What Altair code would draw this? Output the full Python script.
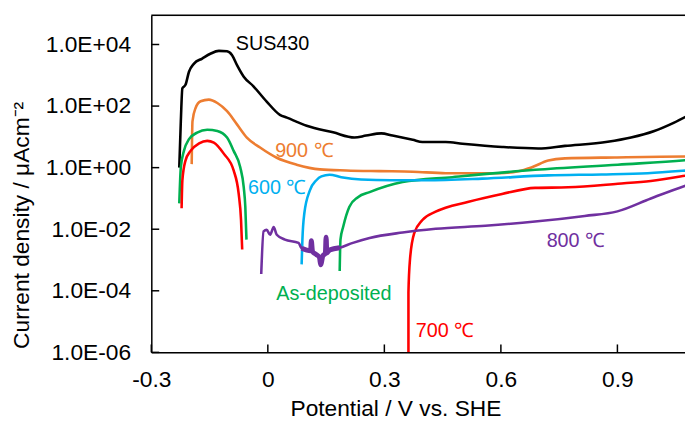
import altair as alt
import pandas as pd

# ---- data (potential V vs SHE, current density uA/cm2) ----
sus_v = [-0.228, -0.224, -0.220, -0.212, -0.203, -0.190, -0.169, -0.148, -0.126, -0.105, -0.092,
         -0.079, -0.062, -0.037, -0.003, 0.031, 0.049, 0.100, 0.168, 0.223, 0.253, 0.292, 0.321,
         0.373, 0.398, 0.458, 0.501, 0.603, 0.696, 0.765, 0.875, 0.935, 0.995, 1.046, 1.079, 1.10]
sus_i = [1.0, 32, 380, 490, 1300, 2400, 3500, 5000, 6200, 6000, 4500,
         2100, 900, 440, 140, 52, 42, 23, 14, 9.5, 11, 13, 11,
         8.0, 6.8, 6.8, 6.0, 4.7, 4.2, 5.1, 6.9, 9.5, 15.5, 29, 47, 65]

t900_v = [-0.196, -0.194, -0.186, -0.173, -0.152, -0.130, -0.105, -0.079, -0.054, -0.020, 0.023,
          0.074, 0.134, 0.202, 0.287, 0.373, 0.458, 0.509, 0.594, 0.645, 0.680, 0.722, 0.765,
          0.893, 1.079, 1.10]
t900_i = [1.3, 32, 87, 143, 162, 126, 68, 25, 9.5, 4.5, 2.1,
          1.25, 0.88, 0.81, 0.77, 0.74, 0.66, 0.66, 0.66, 0.76, 1.03, 1.7, 2.0,
          2.15, 2.3, 2.3]

asdep1_v = [-0.228, -0.224, -0.216, -0.203, -0.182, -0.156, -0.130, -0.105, -0.088, -0.071,
            -0.062, -0.058, -0.055]
asdep1_i = [0.069, 1.03, 3.5, 8.4, 13.7, 17, 15.5, 9.5, 3.5, 1.03, 0.23, 0.054, 0.0046]
asdep2_v = [0.185, 0.187, 0.194, 0.210, 0.232, 0.262, 0.347, 0.475, 0.688, 0.901, 1.079, 1.10]
asdep2_i = [0.00044, 0.0046, 0.012, 0.054, 0.11, 0.16, 0.34, 0.49, 0.85, 1.25, 1.75, 1.85]

t700a_v = [-0.222, -0.220, -0.212, -0.199, -0.177, -0.156, -0.139, -0.113, -0.088, -0.075,
           -0.069, -0.066]
t700a_i = [0.048, 0.39, 1.7, 3.5, 6.1, 7.4, 6.5, 2.8, 0.81, 0.14, 0.02, 0.0022]
t700b_v = [0.362, 0.362, 0.366, 0.377, 0.398, 0.432, 0.517, 0.603, 0.688, 0.773, 0.901,
           0.986, 1.079, 1.10]
t700b_i = [1.0e-6, 8.9e-5, 0.00105, 0.0075, 0.020, 0.037, 0.078, 0.14, 0.22, 0.23, 0.30,
           0.37, 0.56, 0.62]

t600_v = [0.087, 0.089, 0.094, 0.108, 0.125, 0.138, 0.159, 0.189, 0.240, 0.317, 0.407,
          0.552, 0.722, 0.859, 0.978, 1.079, 1.10]
t600_i = [0.00072, 0.0046, 0.033, 0.18, 0.39, 0.52, 0.59, 0.49, 0.41, 0.39, 0.39,
          0.44, 0.56, 0.60, 0.66, 0.81, 0.85]

t800_v = [-0.017, -0.011, -0.003, 0.006, 0.015, 0.023, 0.044, 0.079, 0.087, 0.100, 0.110,
          0.112, 0.115, 0.125, 0.133, 0.136, 0.142, 0.148, 0.150, 0.152, 0.159, 0.185, 0.219,
          0.262, 0.347, 0.432, 0.560, 0.688, 0.816, 0.900, 0.986, 1.079, 1.10]
t800_i = [0.00035, 0.0085, 0.0095, 0.0066, 0.0117, 0.0066, 0.0046, 0.0036, 0.0024, 0.0021, 0.0020,
          0.0042, 0.0019, 0.0015, 0.0012, 0.0007, 0.0014, 0.0016, 0.0055, 0.0017, 0.0021, 0.0025, 0.0036,
          0.0052, 0.0078, 0.0103, 0.013, 0.0177, 0.027, 0.038, 0.10, 0.27, 0.33]

series_names = ["SUS430", "900", "As-deposited", "700", "600", "800"]
series_colors = ["#000000", "#ED7D31", "#00B050", "#FF0000", "#00B0F0", "#7030A0"]

x_tick_values = [-0.3, 0, 0.3, 0.6, 0.9]
x_tick_labels = ["-0.3", "0", "0.3", "0.6", "0.9"]
y_tick_values = [1e-6, 1e-4, 1e-2, 1e0, 1e2, 1e4]
y_tick_labels = ["1.0E-06", "1.0E-04", "1.0E-02", "1.0E+00", "1.0E+02", "1.0E+04"]

ann_series = ["SUS430", "900", "600", "As-deposited", "700", "800"]
ann_text = ["SUS430", "900 ℃", "600 ℃", "As-deposited", "700 ℃", "800 ℃"]
ann_v = [0.012, 0.094, 0.024, 0.170, 0.456, 0.793]
ann_i = [1.07e4, 3.5, 0.21, 7.8e-5, 4.8e-6, 0.0040]

# ---- build table ----
rows = []
branches = [
    ("SUS430", "s", sus_v, sus_i),
    ("900", "o", t900_v, t900_i),
    ("As-deposited", "g1", asdep1_v, asdep1_i),
    ("As-deposited", "g2", asdep2_v, asdep2_i),
    ("700", "r1", t700a_v, t700a_i),
    ("700", "r2", t700b_v, t700b_i),
    ("600", "b", t600_v, t600_i),
    ("800", "p", t800_v, t800_i),
]
for name, br, vs, cs in branches:
    for k, (v, c) in enumerate(zip(vs, cs)):
        rows.append({"series": name, "branch": br, "idx": k, "v": v, "i": c})
df = pd.DataFrame(rows)

ann_df = pd.DataFrame({"text": ann_text, "v": ann_v, "i": ann_i, "series": ann_series})

W, H = 540, 341
XMIN, XMAX = -0.3, 1.074
YMIN, YMAX = 1e-6, 8.85e4
FONT = "Liberation Sans"

xscale = alt.Scale(domain=[XMIN, XMAX], nice=False, zero=False)
yscale = alt.Scale(type="log", domain=[YMIN, YMAX], nice=False)
cscale = alt.Scale(domain=series_names, range=series_colors)


def ternary(values, labels, lo_factor):
    # nested conditional that maps each tick value to its label text
    expr = "'%s'" % labels[-1]
    for val, lab in reversed(list(zip(values[:-1], labels[:-1]))):
        expr = "datum.value < %r ? '%s' : (%s)" % (lo_factor(val), lab, expr)
    return expr


x_label_expr = ternary(x_tick_values, x_tick_labels, lambda v: v + 0.15)
y_label_expr = ternary(y_tick_values, y_tick_labels, lambda v: v * 10)

xaxis = alt.Axis(values=x_tick_values, ticks=False, grid=False, domainColor="#000", domainWidth=1.5,
                 labelExpr=x_label_expr, labelFont=FONT, labelFontSize=23, labelColor="#000",
                 labelPadding=17, labelFlush=False, labelOverlap=False,
                 title="Potential / V vs. SHE", titleFont=FONT, titleFontSize=23,
                 titleFontWeight="normal", titleColor="#000", titleX=247, titleY=57,
                 titleBaseline="middle", titleAlign="center")
yaxis = alt.Axis(values=y_tick_values, ticks=False, grid=False, domainColor="#000", domainWidth=1.5,
                 labelExpr=y_label_expr, labelFont=FONT, labelFontSize=23, labelColor="#000",
                 labelPadding=21, labelFlush=False, labelOverlap=False,
                 title="Current density  / μAcm⁻²", titleFont=FONT, titleFontSize=23,
                 titleFontWeight="normal", titleColor="#000", titleX=-131, titleY=212,
                 titleBaseline="middle", titleAlign="center", titleAngle=270)

X = alt.X("v:Q", scale=xscale, axis=xaxis)
Y = alt.Y("i:Q", scale=yscale, axis=yaxis)

lines = alt.Chart(df).mark_line(strokeWidth=2.6, clip=True, interpolate="monotone").encode(
    x=X, y=Y,
    color=alt.Color("series:N", scale=cscale, legend=None),
    detail="branch:N",
    order="idx:Q",
)

# noisy stretch of the 800 C trace drawn as a thicker band
noisy = alt.Chart(df).transform_filter(
    (alt.datum.series == "800") & (alt.datum.v >= 0.085) & (alt.datum.v <= 0.19)
).mark_line(strokeWidth=5, clip=True, color="#7030A0", interpolate="monotone").encode(
    x=X, y=Y, detail="branch:N", order="idx:Q")

ytick_df = pd.DataFrame({"i": y_tick_values})
yticks = alt.Chart(ytick_df).mark_rule(color="#000", strokeWidth=1.5).encode(
    y=Y, x=alt.value(0), x2=alt.value(8))
xtick_df = pd.DataFrame({"v": x_tick_values})
xticks = alt.Chart(xtick_df).mark_rule(color="#000", strokeWidth=1.5).encode(
    x=X, y=alt.value(H), y2=alt.value(H - 8))
top_border = alt.Chart(pd.DataFrame({"a": [0]})).mark_rule(color="#000", strokeWidth=1.5).encode(
    x=alt.value(0), x2=alt.value(W), y=alt.value(0))

labels = alt.Chart(ann_df).mark_text(font=FONT, fontSize=20, align="center", baseline="middle").encode(
    x=X, y=Y,
    text="text:N",
    color=alt.Color("series:N", scale=cscale, legend=None),
)

chart = alt.layer(lines, noisy, yticks, xticks, top_border, labels).properties(
    width=W, height=H,
    autosize=alt.AutoSizeParams(type="none"),
    padding={"left": 145, "top": 5, "right": 0, "bottom": 66},
).configure_view(stroke=None).configure(background="white")

chart.save("out.html", embed_options={"renderer": "svg", "actions": False})
